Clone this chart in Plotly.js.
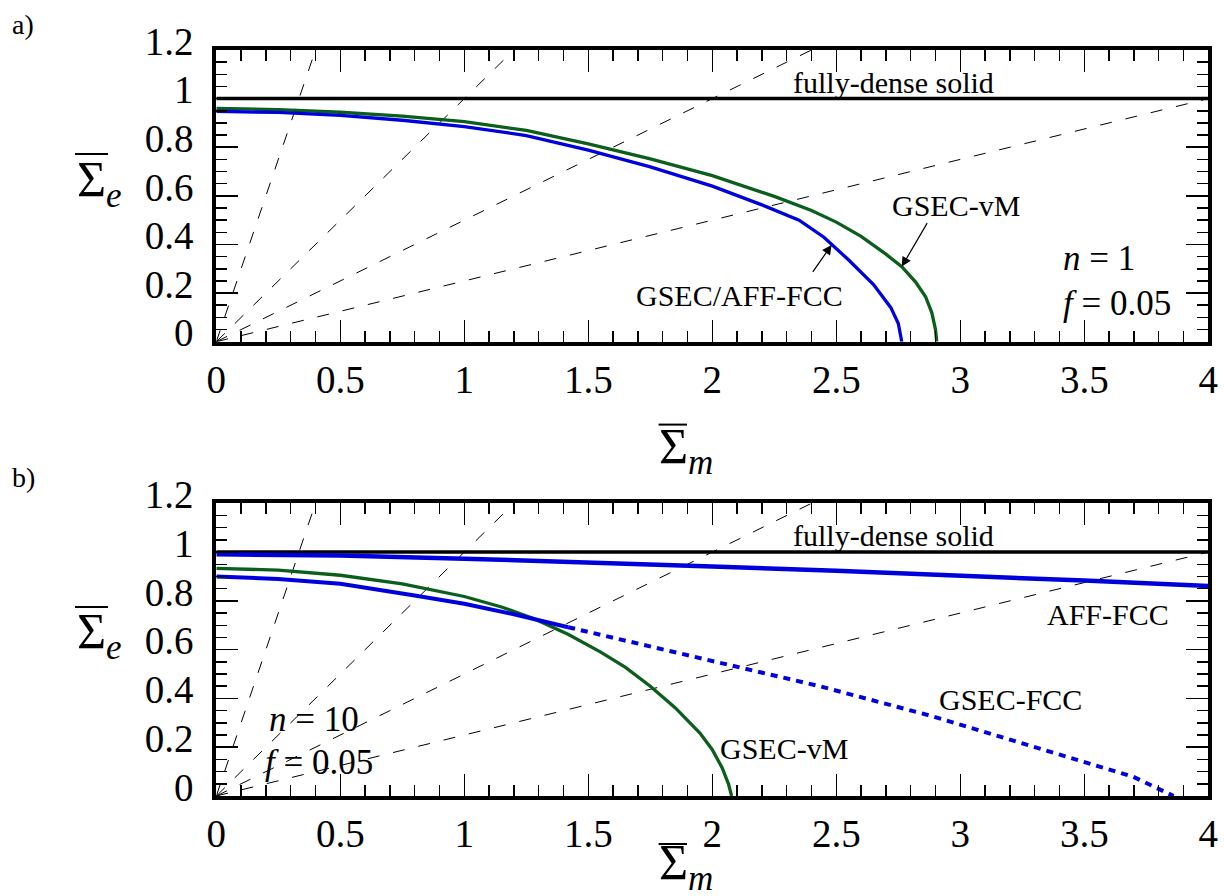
<!DOCTYPE html>
<html><head><meta charset="utf-8">
<script src="https://cdn.plot.ly/plotly-3.0.1.min.js"></script>
<style>html,body{margin:0;padding:0;background:#fff}#chart{width:1225px;height:896px}</style>
</head><body><div id="chart"></div>
<script>
// ---------- Panel a) n = 1, f = 0.05 ----------
const aVmX  = [0, 0.25, 0.5, 0.75, 1.0, 1.25, 1.5, 1.75, 2.0, 2.25, 2.4, 2.5, 2.6, 2.7, 2.764, 2.82, 2.86, 2.885, 2.9, 2.905];
const aVmY  = [0.960, 0.955, 0.944, 0.928, 0.905, 0.869, 0.814, 0.752, 0.683, 0.598, 0.540, 0.492, 0.433, 0.360, 0.309, 0.245, 0.185, 0.12, 0.05, 0];
const aFccX = [0, 0.25, 0.5, 0.75, 1.0, 1.25, 1.5, 1.75, 2.0, 2.2, 2.35, 2.45, 2.55, 2.65, 2.72, 2.75, 2.764];
const aFccY = [0.948, 0.943, 0.931, 0.911, 0.885, 0.848, 0.788, 0.719, 0.640, 0.563, 0.500, 0.430, 0.336, 0.235, 0.140, 0.075, 0];

// ---------- Panel b) n = 10, f = 0.05 ----------
const bAffX = [0, 0.5, 1, 1.5, 2, 2.5, 3, 3.5, 4];
const bAffY = [0.991, 0.986, 0.973, 0.958, 0.941, 0.923, 0.904, 0.883, 0.861];
const bVmX  = [0, 0.25, 0.5, 0.75, 1.0, 1.15, 1.29, 1.42, 1.55, 1.65, 1.75, 1.85, 1.95, 2.0, 2.04, 2.065, 2.078];
const bVmY  = [0.933, 0.926, 0.905, 0.870, 0.818, 0.775, 0.723, 0.662, 0.590, 0.527, 0.450, 0.362, 0.258, 0.190, 0.115, 0.05, 0];
const bFccSolidX = [0, 0.25, 0.5, 0.661, 0.8, 1.0, 1.2, 1.419];
const bFccSolidY = [0.900, 0.890, 0.870, 0.845, 0.822, 0.788, 0.745, 0.692];
const bFccDotX = [1.419, 1.601, 1.802, 2.085, 2.434, 2.891, 3.429, 3.697, 3.86];
const bFccDotY = [0.692, 0.649, 0.601, 0.532, 0.450, 0.326, 0.162, 0.079, 0.0];

// fully-dense solid level and constant-triaxiality radial lines (slopes Se/Sm)
const denseLevel = 1.0;
const radialSlopes = [3, 1, 0.5, 0.25];
const xRange = [0, 4], yRange = [0, 1.2];
const xTickStep = 0.5, xMinorStep = 0.1, yTickStep = 0.2, yMinorStep = 0.05;

const BLUE = '#0000dd', GREEN = '#0b5e1c';
const FAM = 'Times New Roman';
const W = 1225, H = 896;
const px = v => v / W, py = v => 1 - v / H;

function radialTraces(xa, ya) {
  return radialSlopes.map(s => {
    const xe = Math.min(xRange[1], yRange[1] / s);
    return {x: [0, xe], y: [0, s * xe], xaxis: xa, yaxis: ya, mode: 'lines',
      line: {color: '#000', width: 1, dash: '12px,14px'}, hoverinfo: 'skip', showlegend: false};
  });
}
function line(x, y, xa, ya, color, width, dash) {
  return {x, y, xaxis: xa, yaxis: ya, mode: 'lines', line: {color, width, dash: dash || 'solid'},
    showlegend: false, hoverinfo: 'skip'};
}

const traces = [
  ...radialTraces('x', 'y'),
  line(xRange, [denseLevel, denseLevel], 'x', 'y', '#000', 3.5),
  line(aVmX, aVmY, 'x', 'y', GREEN, 3.3),
  line(aFccX, aFccY, 'x', 'y', BLUE, 3.3),
  ...radialTraces('x2', 'y2'),
  line(xRange, [denseLevel, denseLevel], 'x2', 'y2', '#000', 3.5),
  line(bVmX, bVmY, 'x2', 'y2', GREEN, 3.3),
  line(bFccSolidX, bFccSolidY, 'x2', 'y2', BLUE, 4),
  line(bFccDotX, bFccDotY, 'x2', 'y2', BLUE, 4, '7px,6px'),
  line(bAffX, bAffY, 'x2', 'y2', BLUE, 4.5)
];

function xAxis(anchor) {
  return {domain: [px(216.3), px(1208.3)], range: xRange, anchor,
    tickmode: 'linear', tick0: 0, dtick: xTickStep, ticks: 'inside', ticklen: 22, tickwidth: 1.5, tickcolor: '#000',
    showline: true, linewidth: 4, linecolor: '#000', mirror: 'allticks', showgrid: false, zeroline: false,
    minor: {ticks: 'inside', ticklen: 11, tickwidth: 1.5, tickcolor: '#000', dtick: xMinorStep, tick0: 0, showgrid: false},
    tickfont: {family: FAM, size: 39, color: '#000'}, automargin: false, fixedrange: true};
}
function yAxis(anchor, top, bottom) {
  return {domain: [py(bottom), py(top)], range: yRange, anchor,
    tickmode: 'linear', tick0: 0, dtick: yTickStep, ticks: 'inside', ticklen: 22, tickwidth: 1.5, tickcolor: '#000',
    showline: true, linewidth: 4, linecolor: '#000', mirror: 'allticks', showgrid: false, zeroline: false,
    minor: {ticks: 'inside', ticklen: 11, tickwidth: 1.5, tickcolor: '#000', dtick: yMinorStep, tick0: 0, showgrid: false},
    tickfont: {family: FAM, size: 39, color: '#000'}, ticklabelshift: -9, ticklabelstandoff: 11,
    automargin: false, fixedrange: true};
}

const txt = (text, x, y, xr, yr, size, extra) => Object.assign({text, x, y, xref: xr, yref: yr,
  showarrow: false, font: {family: FAM, size, color: '#000'}, xanchor: 'center', yanchor: 'middle'}, extra || {});
const arrow = (x, y, ax, ay, xr, yr) => ({text: '', x, y, ax, ay, xref: xr, yref: yr, axref: xr, ayref: yr,
  showarrow: true, arrowhead: 2, arrowsize: 1.6, arrowwidth: 1.2, arrowcolor: '#000'});

const annotations = [
  txt('a)', px(22.5), py(25), 'paper', 'paper', 28),
  txt('b)', px(23), py(477), 'paper', 'paper', 28),
  // axis titles
  txt('Σ<sub><i>e</i></sub>', px(75), py(183), 'paper', 'paper', 50, {xanchor: 'left'}),
  txt('Σ<sub><i>e</i></sub>', px(75), py(635), 'paper', 'paper', 50, {xanchor: 'left'}),
  txt('Σ<sub><i>m</i></sub>', px(657), py(450), 'paper', 'paper', 50, {xanchor: 'left'}),
  txt('Σ<sub><i>m</i></sub>', px(657), py(866), 'paper', 'paper', 50, {xanchor: 'left'}),
  // panel a
  txt('fully-dense solid', 2.731, 1.065, 'x', 'y', 30),
  txt('GSEC-vM', 2.982, 0.562, 'x', 'y', 30),
  txt('GSEC/AFF-FCC', 2.108, 0.192, 'x', 'y', 30),
  txt('<i>n</i> = 1', 3.405, 0.344, 'x', 'y', 35, {xanchor: 'left'}),
  txt('<i>f</i> = 0.05', 3.405, 0.158, 'x', 'y', 35, {xanchor: 'left'}),
  arrow(2.764, 0.309, 2.870, 0.494, 'x', 'y'),
  arrow(2.481, 0.398, 2.401, 0.281, 'x', 'y'),
  // panel b
  txt('fully-dense solid', 2.730, 1.068, 'x2', 'y2', 30),
  txt('AFF-FCC', 3.594, 0.745, 'x2', 'y2', 30),
  txt('GSEC-FCC', 3.204, 0.395, 'x2', 'y2', 30),
  txt('GSEC-vM', 2.290, 0.193, 'x2', 'y2', 30),
  txt('<i>n</i> = 10', 0.205, 0.313, 'x2', 'y2', 35, {xanchor: 'left'}),
  txt('<i>f</i> = 0.05', 0.190, 0.136, 'x2', 'y2', 35, {xanchor: 'left'})
];

const bar = (x0, x1, y) => ({type: 'line', xref: 'paper', yref: 'paper', x0: px(x0), x1: px(x1), y0: py(y), y1: py(y),
  line: {color: '#000', width: 2}});
const shapes = [bar(75, 108, 154), bar(75, 108, 607), bar(658.6, 687, 424.6), bar(658.6, 687, 844)];

const layout = {
  width: W, height: H, margin: {l: 0, r: 0, t: 0, b: 0},
  font: {family: FAM, color: '#000'},
  paper_bgcolor: '#fff', plot_bgcolor: '#fff', showlegend: false,
  xaxis: xAxis('y'), yaxis: yAxis('x', 50, 341.7),
  xaxis2: xAxis('y2'), yaxis2: yAxis('x2', 503.3, 796),
  annotations, shapes
};
Plotly.newPlot('chart', traces, layout, {displayModeBar: false, staticPlot: true});
</script></body></html>
